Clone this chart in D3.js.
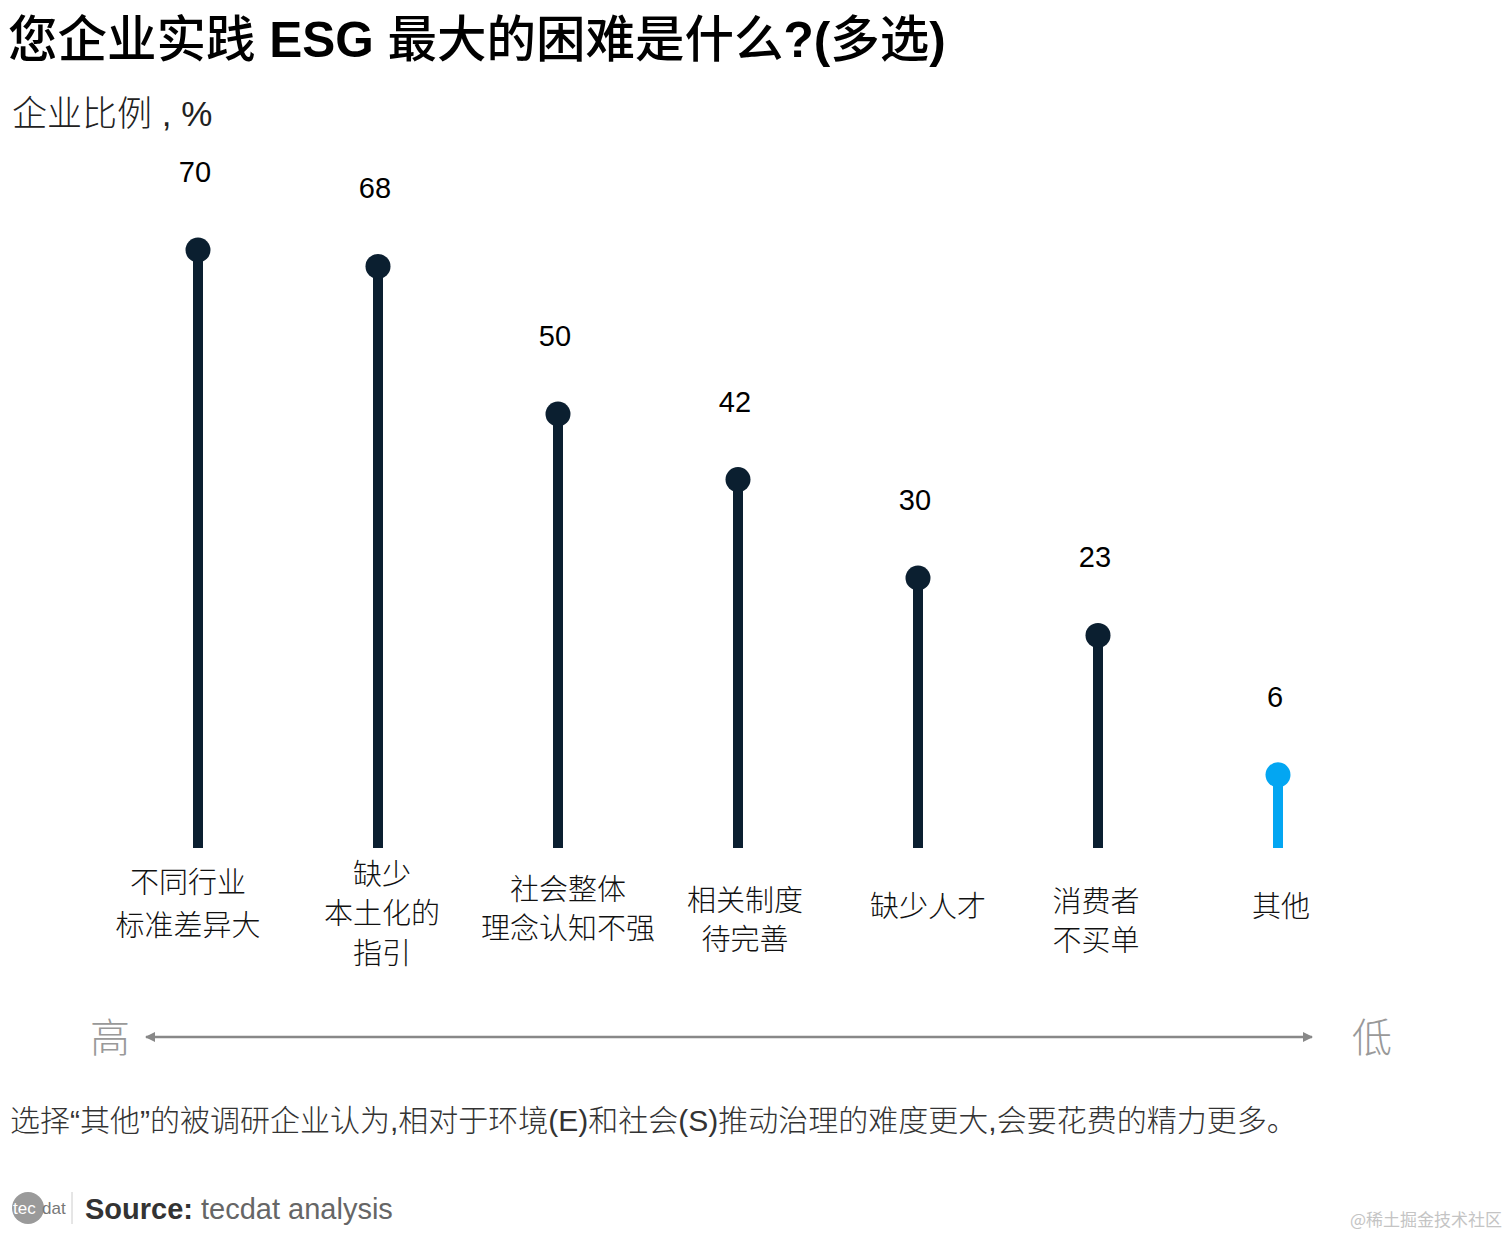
<!DOCTYPE html>
<html>
<head>
<meta charset="utf-8">
<script src="https://cdn.jsdelivr.net/npm/d3@7"></script>
<style>
  body { margin: 0; background: #fff; }
  svg { display: block; font-family: "Liberation Sans", Arial, "Noto Sans CJK SC", sans-serif; }
</style>
</head>
<body>
<script>
// survey answers, share of firms in %
const categories = ["不同行业|标准差异大", "缺少|本土化的|指引", "社会整体|理念认知不强", "相关制度|待完善", "缺少人才", "消费者|不买单", "其他"];
const values = [70, 68, 50, 42, 30, 23, 6];
const highlight = ["其他"];

const W = 1508, H = 1236;
const cjk = "'Noto Sans CJK SC', sans-serif";
const mix = "'Liberation Sans', 'Noto Sans CJK SC', sans-serif";

const svg = d3.select("body").append("svg")
    .attr("width", W)
    .attr("height", H);

// title: latin parts bold, CJK a bit lighter
const title = svg.append("text")
    .attr("x", 8).attr("y", 57)
    .attr("font-size", 49.5)
    .attr("font-family", mix)
    .attr("fill", "#000");
[["您企业实践 ", 500], ["ESG", 700], [" 最大的困难是什么", 500], ["?(", 700], ["多选", 500], [")", 700]]
  .forEach(([s, w]) => title.append("tspan").attr("font-weight", w).text(s));

svg.append("text")
    .attr("x", 12).attr("y", 126)
    .attr("font-size", 35)
    .attr("font-family", mix)
    .attr("font-weight", 300)
    .attr("fill", "#222")
    .text("企业比例 , %");

const x = d3.scalePoint()
    .domain(categories)
    .range([198, 1278]);

const y = d3.scaleLinear()
    .domain([0, 70])
    .range([824, 250]);

const base = 848;
const color = d => highlight.includes(d.split("|")[0]) ? "#03a6f2" : "#0b1f30";

const rows = categories.map((c, i) => ({c, v: values[i]}));

const g = svg.append("g");

g.selectAll("line.stem")
  .data(rows)
  .join("line")
    .attr("class", "stem")
    .attr("x1", d => x(d.c)).attr("x2", d => x(d.c))
    .attr("y1", base).attr("y2", d => y(d.v))
    .attr("stroke", d => color(d.c))
    .attr("stroke-width", 10);

g.selectAll("circle")
  .data(rows)
  .join("circle")
    .attr("cx", d => x(d.c))
    .attr("cy", d => y(d.v))
    .attr("r", 12.5)
    .attr("fill", d => color(d.c));

g.selectAll("text.val")
  .data(rows)
  .join("text")
    .attr("class", "val")
    .attr("x", d => x(d.c) - 3)
    .attr("y", d => y(d.v) - 68)
    .attr("text-anchor", "middle")
    .attr("font-size", 29)
    .attr("fill", "#000")
    .text(d => d.v);

// category labels below the baseline
const labTop = {"不同行业": 893, "缺少": 885, "社会整体": 900, "相关制度": 911, "缺少人才": 917, "消费者": 912, "其他": 917};
const labGap = {"缺少": [0, 39, 79], "消费者": [0, 39], "不同行业": [0, 43], "社会整体": [0, 39], "相关制度": [0, 39]};
const labShift = {"不同行业": -10, "缺少": 4, "社会整体": 10, "相关制度": 7, "缺少人才": 10, "消费者": -2, "其他": 3};

rows.forEach(d => {
  const lines = d.c.split("|");
  const key = lines[0];
  const gaps = labGap[key] || [0];
  const t = g.append("text")
      .attr("text-anchor", "middle")
      .attr("font-size", 29)
      .attr("font-family", cjk)
      .attr("font-weight", 300)
      .attr("fill", "#111");
  lines.forEach((s, i) => {
    t.append("tspan")
        .attr("x", x(d.c) + labShift[key])
        .attr("y", labTop[key] + gaps[i])
        .text(s);
  });
});

// high -> low arrow
const defs = svg.append("defs");
defs.append("marker")
    .attr("id", "ah")
    .attr("viewBox", "0 0 10 10")
    .attr("refX", 9).attr("refY", 5)
    .attr("markerWidth", 4).attr("markerHeight", 4)
    .attr("orient", "auto-start-reverse")
  .append("path")
    .attr("d", "M0,0L10,5L0,10z")
    .attr("fill", "#888");

svg.append("line")
    .attr("x1", 146).attr("x2", 1312)
    .attr("y1", 1037).attr("y2", 1037)
    .attr("stroke", "#888").attr("stroke-width", 2.5)
    .attr("marker-start", "url(#ah)")
    .attr("marker-end", "url(#ah)");

svg.append("text")
    .attr("x", 110).attr("y", 1052)
    .attr("text-anchor", "middle")
    .attr("font-size", 40).attr("font-family", cjk).attr("font-weight", 300)
    .attr("fill", "#999")
    .text("高");

svg.append("text")
    .attr("x", 1372).attr("y", 1052)
    .attr("text-anchor", "middle")
    .attr("font-size", 40).attr("font-family", cjk).attr("font-weight", 300)
    .attr("fill", "#999")
    .text("低");

svg.append("text")
    .attr("x", 10).attr("y", 1131)
    .attr("font-size", 30)
    .attr("font-family", mix)
    .attr("font-weight", 300)
    .attr("fill", "#333")
    .text("选择“其他”的被调研企业认为,相对于环境(E)和社会(S)推动治理的难度更大,会要花费的精力更多。");

// source line with logo
const logo = svg.append("g");
logo.append("circle")
    .attr("cx", 28).attr("cy", 1208).attr("r", 16)
    .attr("fill", "#9a9a9a");
logo.append("text")
    .attr("x", 13).attr("y", 1214)
    .attr("font-size", 17).attr("font-family", "'Liberation Sans Narrow', 'Liberation Sans', sans-serif")
    .attr("fill", "#fff")
    .text("tec");
logo.append("text")
    .attr("x", 42).attr("y", 1214)
    .attr("font-size", 17).attr("font-family", "'Liberation Sans Narrow', 'Liberation Sans', sans-serif")
    .attr("fill", "#777")
    .text("dat");
logo.append("line")
    .attr("x1", 72).attr("x2", 72)
    .attr("y1", 1192).attr("y2", 1224)
    .attr("stroke", "#ccc").attr("stroke-width", 1);

const src = svg.append("text")
    .attr("x", 85).attr("y", 1219)
    .attr("font-size", 29);
src.append("tspan").attr("font-weight", "bold").attr("fill", "#333").text("Source: ");
src.append("tspan").attr("fill", "#666").text("tecdat analysis");

svg.append("text")
    .attr("x", 1502).attr("y", 1226)
    .attr("text-anchor", "end")
    .attr("font-size", 17)
    .attr("font-family", cjk)
    .attr("fill", "#c4c4c4")
    .text("@稀土掘金技术社区");
</script>
</body>
</html>
